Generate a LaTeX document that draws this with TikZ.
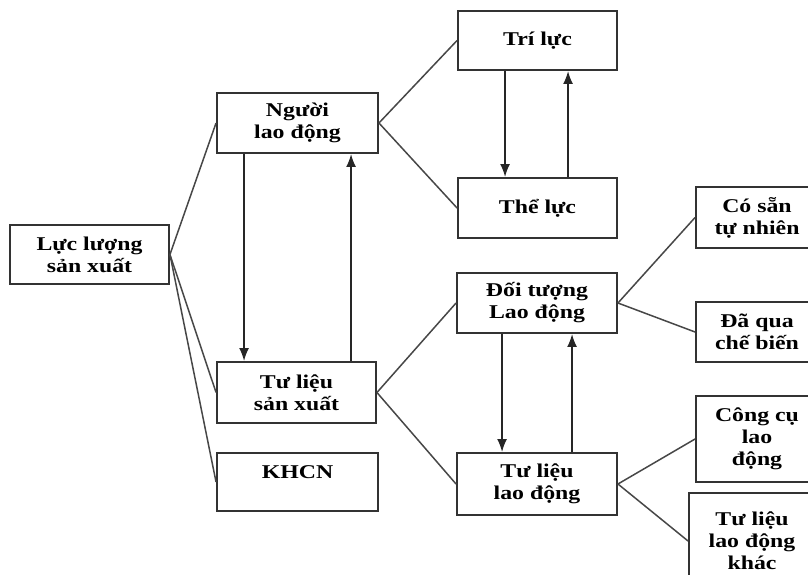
\documentclass[tikz,border=0pt]{standalone}
\usepackage{fontspec}
\setmainfont{Liberation Serif}[FakeStretch=1.22]
\usetikzlibrary{shapes, arrows.meta, positioning}

\begin{document}
\begin{tikzpicture}[x=1pt, y=-1pt,
    hop/.style={rectangle, draw=black!80, line width=1.9pt, align=center, inner sep=0pt,
        font=\fontsize{19.5}{22}\selectfont\bfseries, minimum width=160pt, minimum height=60pt},
    noi/.style={draw=black!72, line width=1.5pt},
    muiten/.style={draw=black!85, line width=1.8pt, -{Latex[length=13pt, width=10pt]}}]
    \useasboundingbox (0,0) rectangle (808,574);
    \clip (0,0) rectangle (808,574);

    % Define nodes
    \node (LL) [hop, minimum width=159pt, minimum height=59pt] at (89.5,254.5) {Lực lượng\\sản xuất};
    \node (NLD) [hop, minimum width=161pt] at (297.5,123) {Người\\lao động};
    \node (TLSX) [hop, minimum width=159pt, minimum height=61pt] at (296.5,392.5) {Tư liệu\\sản xuất};
    \node (KHCN) [hop, minimum width=161pt, minimum height=58pt, text height=25pt, text depth=33pt] at (297.5,482) {KHCN};
    \node (TriLuc) [hop, minimum width=159pt, minimum height=59pt] at (537.5,40.5) {Trí lực};
    \node (TheLuc) [hop, minimum width=159pt] at (537.5,208) {Thể lực};
    \node (DT) [hop] at (537,303) {Đối tượng\\Lao động};
    \node (TLLD) [hop, minimum height=62pt] at (537,484) {Tư liệu\\lao động};
    \node (CoSan) [hop, minimum width=122pt, minimum height=61pt] at (757,217.5) {Có sẵn\\tự nhiên};
    \node (DaQua) [hop, minimum width=122pt] at (757,332) {Đã qua\\chế biến};
    \node (CongCu) [hop, minimum width=122pt, minimum height=86pt] at (757,439) {Công cụ\\lao\\động};
    \node (TLK) [hop, minimum width=126pt, minimum height=96pt] at (752,541) {Tư liệu\\lao động\\khác};

    % Draw edges
    \draw[noi] (LL.east) -- (NLD.west);
    \draw[noi] (LL.east) -- (TLSX.west);
    \draw[noi] (LL.east) -- (KHCN.west);
    \draw[noi] (NLD.east) -- (TriLuc.west);
    \draw[noi] (NLD.east) -- (TheLuc.west);
    \draw[noi] (TLSX.east) -- (DT.west);
    \draw[noi] (TLSX.east) -- (TLLD.west);
    \draw[noi] (DT.east) -- (CoSan.west);
    \draw[noi] (DT.east) -- (DaQua.west);
    \draw[noi] (TLLD.east) -- (CongCu.west);
    \draw[noi] (TLLD.east) -- (TLK.west);

    % Draw arrows
    \draw[muiten] ([xshift=28pt]NLD.south west) -- ([xshift=28pt]TLSX.north west);
    \draw[muiten] ([xshift=135pt]TLSX.north west) -- ([xshift=135pt]NLD.south west);
    \draw[muiten] ([xshift=48pt]TriLuc.south west) -- ([xshift=48pt]TheLuc.north west);
    \draw[muiten] ([xshift=111pt]TheLuc.north west) -- ([xshift=111pt]TriLuc.south west);
    \draw[muiten] ([xshift=46pt]DT.south west) -- ([xshift=46pt]TLLD.north west);
    \draw[muiten] ([xshift=116pt]TLLD.north west) -- ([xshift=116pt]DT.south west);
\end{tikzpicture}
\end{document}
